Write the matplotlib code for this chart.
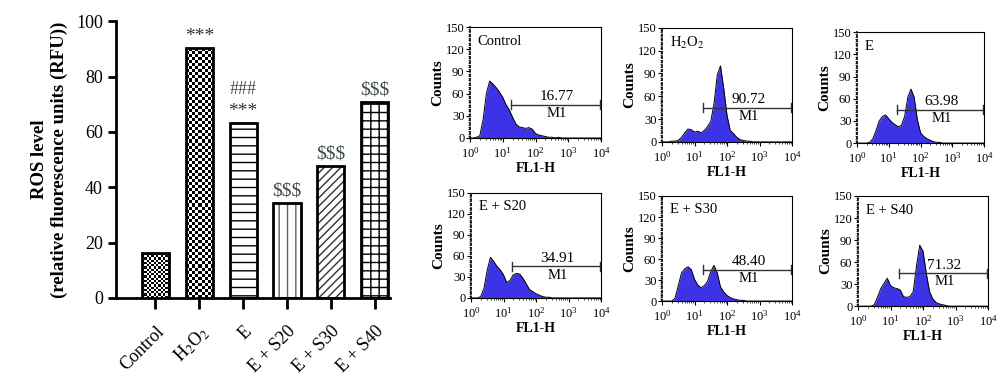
import numpy as np
import matplotlib.pyplot as plt
from matplotlib.ticker import MultipleLocator, LogLocator, NullFormatter

plt.rcParams['font.family'] = ['Liberation Serif', 'DejaVu Serif']
plt.rcParams['mathtext.fontset'] = 'stix'

# ---- bar chart data ----
groups = ['Control', r'H$_2$O$_2$', 'E', 'E + S20', 'E + S30', 'E + S40']
ros = [16.2, 90.3, 63.3, 34.2, 47.5, 70.7]
stars = ['', '***', '***', '', '', '']
hashes = ['', '', '###', '', '', '']
dollars = ['', '', '', r'\$\$\$', r'\$\$\$', r'\$\$\$']

# ---- flow cytometry histograms (FL1-H channel, log10 position) ----
fl1_log = [0.0, 0.1, 0.2, 0.3, 0.4, 0.5, 0.6, 0.7, 0.8, 0.9,
           1.0, 1.1, 1.2, 1.3, 1.4, 1.5, 1.6, 1.7, 1.8, 1.9,
           2.0, 2.1, 2.2, 2.3, 2.4, 2.5, 2.6, 2.7, 2.8, 2.9,
           3.0, 3.1, 3.2, 3.3, 3.4, 3.5, 3.6, 3.7, 3.8, 3.9, 4.0]
cnt_control = [0, 0, 1, 3, 25, 60, 77, 73, 68, 62,
               55, 45, 38, 28, 19, 15, 14, 13, 14, 12,
               6, 4, 3, 2, 1, 1, 0, 1, 0, 0,
               0, 0, 0, 0, 0, 0, 0, 0, 0, 0, 0]
cnt_h2o2 = [0, 0, 0, 1, 1, 2, 6, 12, 17, 16,
            13, 14, 12, 15, 20, 27, 50, 88, 100, 70,
            35, 15, 11, 6, 3, 2, 1, 1, 0, 0,
            0, 0, 0, 0, 0, 0, 0, 0, 0, 0, 0]
cnt_e = [0, 0, 0, 0, 1, 6, 17, 30, 36, 38,
         33, 28, 25, 22, 24, 36, 62, 73, 62, 32,
         14, 9, 6, 4, 2, 1, 1, 0, 0, 0,
         0, 0, 0, 0, 0, 0, 0, 0, 0, 0, 0]
cnt_s20 = [0, 0, 0, 2, 14, 40, 58, 52, 45, 40,
           33, 22, 25, 33, 35, 34, 28, 20, 12, 9,
           6, 4, 2, 1, 1, 0, 0, 0, 0, 0,
           0, 0, 0, 0, 0, 0, 0, 0, 0, 0, 0]
cnt_s30 = [0, 0, 0, 0, 4, 22, 40, 46, 49, 45,
           31, 23, 19, 22, 28, 42, 51, 40, 20, 13,
           8, 5, 3, 2, 1, 1, 0, 0, 0, 0,
           0, 0, 0, 0, 0, 0, 0, 0, 0, 0, 0]
cnt_s40 = [0, 0, 0, 0, 0, 2, 12, 24, 31, 38,
           28, 25, 24, 22, 13, 12, 13, 20, 55, 83,
           75, 45, 20, 10, 5, 3, 2, 1, 0, 0,
           0, 0, 0, 0, 0, 0, 0, 0, 0, 0, 0]
hist_names = ['Control', r'H$_2$O$_2$', 'E', 'E + S20', 'E + S30', 'E + S40']
hist_counts = [cnt_control, cnt_h2o2, cnt_e, cnt_s20, cnt_s30, cnt_s40]
gate_pct = ['16.77', '90.72', '63.98', '34.91', '48.40', '71.32']
gate_lo, gate_hi, gate_y = 1.25, 3.97, 45

fig = plt.figure(figsize=(10, 3.92), dpi=100)

# ================= bar chart =================
ax = fig.add_axes([0.116, 0.240, 0.274, 0.706])
pos = np.arange(len(groups))
bar_w = 0.62
hatches = [None, None, '--', '||', '////', '++']
hatch_col = ['black', 'black', 'black', '#5a6464', '#333333', 'black']
for i in range(len(groups)):
    if hatches[i]:
        ax.bar(pos[i], ros[i], bar_w, color='white', edgecolor=hatch_col[i],
               hatch=hatches[i], linewidth=0, zorder=2)
bars = ax.bar(pos, ros, bar_w, facecolor='none', edgecolor='black',
              linewidth=2.0, zorder=4)

# checkerboard fills for Control and H2O2
checker_cfg = {0: (12, 0.8), 1: (9, 1.1)}
for i, (ncol, sq) in checker_cfg.items():
    b = bars[i]
    x0, w, h = b.get_x(), b.get_width(), b.get_height()
    nrow = int(round(h / sq))
    board = np.indices((nrow, ncol)).sum(axis=0) % 2
    ax.imshow(board, cmap='Greys', vmin=0, vmax=1, extent=(x0, x0 + w, 0, h),
              aspect='auto', interpolation='nearest', zorder=3)

for i in range(len(groups)):
    top = ros[i]
    if stars[i]:
        ax.text(pos[i], top + 1.0, stars[i], ha='center', va='bottom',
                fontsize=14, color='#333333')
    if hashes[i]:
        ax.text(pos[i], top + 9.0, hashes[i], ha='center', va='bottom',
                fontsize=13, color='#3f4a4a')
    if dollars[i]:
        ax.text(pos[i], top + 1.5, dollars[i], ha='center', va='bottom',
                fontsize=14, color='#3f4a4a')

ax.set_xlim(-0.9, 5.35)
ax.set_ylim(0, 100)
ax.set_yticks([0, 20, 40, 60, 80, 100])
ax.set_xticks(pos)
ax.set_xticklabels(groups, rotation=45, ha='right', rotation_mode='anchor', fontsize=13)
ax.tick_params(axis='y', labelsize=13, width=2, length=6)
ax.tick_params(axis='x', width=2, length=8, pad=10)
for s in ['top', 'right']:
    ax.spines[s].set_visible(False)
for s in ['left', 'bottom']:
    ax.spines[s].set_linewidth(2)
ax.set_ylabel('ROS level\n(relative fluorescence units (RFU))', fontsize=13.5,
              fontweight='bold', labelpad=6)

# ================= histograms =================
panel_rects = [
    [0.470, 0.648, 0.131, 0.283],
    [0.662, 0.638, 0.130, 0.291],
    [0.857, 0.635, 0.127, 0.283],
    [0.471, 0.240, 0.130, 0.268],
    [0.662, 0.232, 0.130, 0.268],
    [0.858, 0.219, 0.130, 0.281],
]
blue = '#3d33e6'
x_fl1 = 10 ** np.array(fl1_log)
for k in range(6):
    hx = fig.add_axes(panel_rects[k])
    hx.fill_between(x_fl1, hist_counts[k], color=blue, lw=0)
    hx.plot(x_fl1, hist_counts[k], color='black', lw=0.7)
    hx.set_xscale('log')
    hx.set_xlim(1, 1e4)
    hx.set_ylim(0, 150)
    hx.set_yticks([0, 30, 60, 90, 120, 150])
    hx.yaxis.set_minor_locator(MultipleLocator(3))
    hx.set_xticks([1, 10, 100, 1000, 10000])
    hx.xaxis.set_minor_locator(LogLocator(base=10, subs=np.arange(2, 10), numticks=20))
    hx.xaxis.set_minor_formatter(NullFormatter())
    hx.tick_params(which='major', labelsize=9, length=3, width=0.8)
    hx.tick_params(axis='y', which='major', pad=1)
    hx.tick_params(axis='x', which='major', pad=3)
    hx.tick_params(which='minor', length=1.5, width=0.5)
    for s in hx.spines.values():
        s.set_linewidth(0.8)
    hx.spines['left'].set_linestyle(':')
    hx.spines['left'].set_linewidth(1.2)
    hx.set_ylabel('Counts', fontsize=11, fontweight='bold', labelpad=1)
    hx.set_xlabel('FL1-H', fontsize=10, fontweight='bold', labelpad=1)
    hx.text(0.06, 0.87, hist_names[k], transform=hx.transAxes, fontsize=10.5,
            ha='left', va='center')

    # M1 gate marker
    g0, g1 = 10 ** gate_lo, 10 ** gate_hi
    hx.plot([g0, g1], [gate_y, gate_y], color='#333333', lw=1.0)
    hx.plot([g0, g0], [gate_y - 6, gate_y + 6], color='#333333', lw=1.0)
    hx.plot([g1, g1], [gate_y - 6, gate_y + 6], color='#333333', lw=1.0)
    gmid = 10 ** ((gate_lo + gate_hi) / 2 + 0.05)
    hx.text(gmid, gate_y + 2, gate_pct[k], ha='center', va='bottom', fontsize=11)
    hx.text(gmid, gate_y - 3, 'M1', ha='center', va='top', fontsize=10.5)

fig.savefig('out.png', dpi=100)
